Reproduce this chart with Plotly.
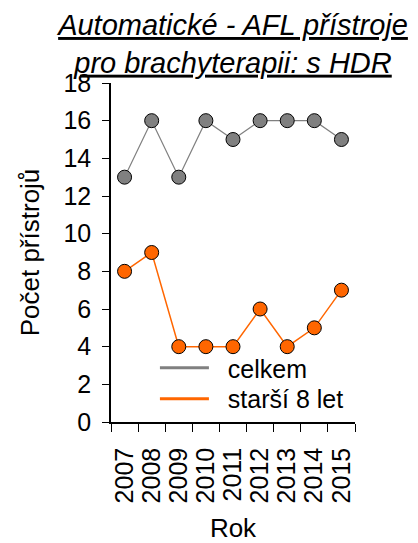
import plotly.graph_objects as go

years = ["2007", "2008", "2009", "2010", "2011", "2012", "2013", "2014", "2015"]
celkem = [13, 16, 13, 16, 15, 16, 16, 16, 15]
starsi = [8, 9, 4, 4, 4, 6, 4, 5, 7]
series_names = ["celkem", "starší 8 let"]
y_ticks = [0, 2, 4, 6, 8, 10, 12, 14, 16, 18]

GRAY = "#808080"
ORANGE = "#FF6600"
FONT = "Liberation Sans, Arial, sans-serif"
NB = "\u00a0\u00a0"

fig = go.Figure()
for vals, name, col, lw in [(celkem, series_names[0], GRAY, 1.2), (starsi, series_names[1], ORANGE, 1.5)]:
    fig.add_trace(go.Scatter(
        x=years, y=vals, mode="lines+markers", name=name, showlegend=False,
        line=dict(color=col, width=lw),
        marker=dict(size=14, color=col, line=dict(color="black", width=1)),
        cliponaxis=False,
    ))
# legend entries (lines only), each in its own legend box
for name, col, lg in [(series_names[0], GRAY, "legend"), (series_names[1], ORANGE, "legend2")]:
    fig.add_trace(go.Scatter(
        x=[None], y=[None], mode="lines", name=NB + name, legend=lg,
        line=dict(color=col, width=3),
    ))

leg_common = dict(
    xanchor="left", yanchor="middle",
    bgcolor="rgba(0,0,0,0)", borderwidth=0,
    font=dict(size=25, family=FONT, color="black"),
    itemwidth=49,
)

W, H = 410, 535
fig.update_layout(
    width=W, height=H,
    margin=dict(l=103, r=63, t=75, b=121, autoexpand=False),
    paper_bgcolor="white", plot_bgcolor="white",
    font=dict(family=FONT, size=26, color="black"),
    title=dict(
        text="<i><u>Automatické - AFL přístroje</u></i><br><i><u>pro brachyterapii: s HDR</u></i>",
        x=0.5, xref="paper", xanchor="center",
        y=1 - 27 / H, yref="container", yanchor="top",
        font=dict(size=29, family=FONT, color="black"),
    ),
    showlegend=True,
    legend=dict(x=0.18, y=0.159, **leg_common),
    legend2=dict(x=0.18, y=0.068, **leg_common),
)
fig.update_xaxes(
    type="category", range=[-0.5, len(years) - 0.5],
    tickson="boundaries", ticks="outside", ticklen=8,
    tickmode="linear", dtick=1,
    tickwidth=1, tickcolor="black", tickangle=-90, ticklabelstandoff=14,
    showline=True, linecolor="black", linewidth=1.5, showgrid=False, zeroline=False,
    automargin=False,
    title=dict(text="Rok", font=dict(size=26), standoff=21),
    tickfont=dict(size=25),
)
fig.update_yaxes(
    range=[0, 18], tickvals=y_ticks, ticks="outside", ticklen=7,
    tickwidth=1, tickcolor="black", ticklabelstandoff=6,
    showline=True, linecolor="black", linewidth=1.5, showgrid=False, zeroline=False,
    automargin=False,
    title=dict(text="Počet přístrojů", font=dict(size=26), standoff=16),
    tickfont=dict(size=25),
)

fig.write_html("out.html")
